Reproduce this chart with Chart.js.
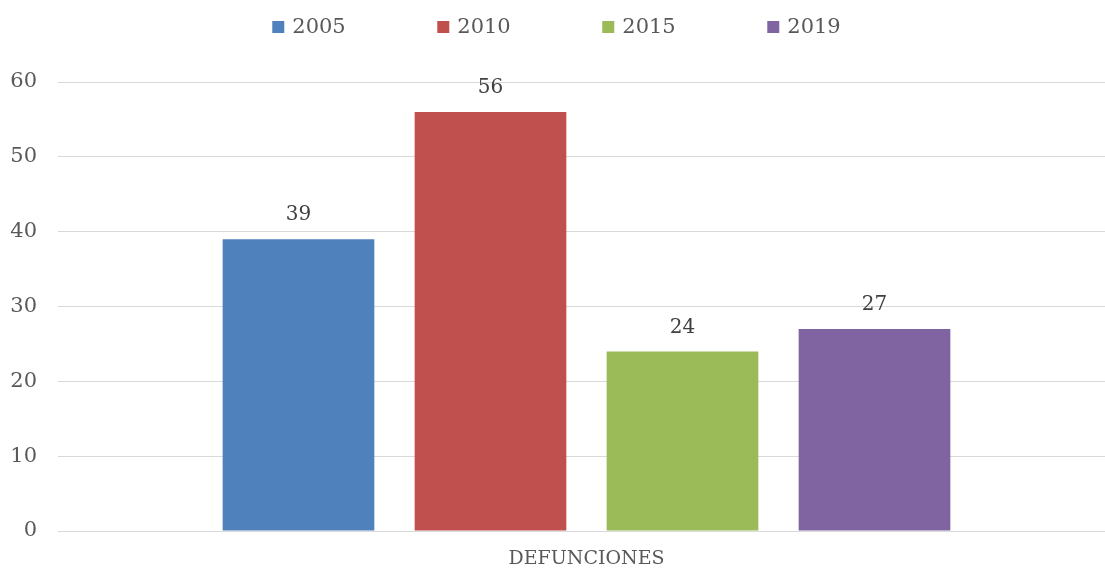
<!DOCTYPE html>
<html>
<head>
<meta charset="utf-8">
<script src="https://cdn.jsdelivr.net/npm/chart.js@4/dist/chart.umd.min.js"></script>
<style>
  html, body { margin: 0; padding: 0; background: #ffffff; }
  #wrap { width: 1105px; height: 571px; position: relative; }
</style>
</head>
<body>
<div id="wrap"><canvas id="c"></canvas></div>
<script>
const categories = ["DEFUNCIONES"];
const seriesLabels = ["2005", "2010", "2015", "2019"];
const values2005 = [39];
const values2010 = [56];
const values2015 = [24];
const values2019 = [27];
const yTicks = [0, 10, 20, 30, 40, 50, 60];

const colors = ["#4F81BD", "#C0504D", "#9BBB59", "#8064A2"];
const seriesValues = [values2005, values2010, values2015, values2019];
const FONT = "'DejaVu Serif', serif";

const dataLabelPlugin = {
  id: 'dataLabels',
  afterDatasetsDraw(chart) {
    const ctx = chart.ctx;
    ctx.save();
    ctx.font = "20px " + FONT;
    ctx.fillStyle = "#404040";
    ctx.textAlign = "center";
    ctx.textBaseline = "middle";
    chart.data.datasets.forEach((ds, i) => {
      const meta = chart.getDatasetMeta(i);
      meta.data.forEach((bar, j) => {
        ctx.fillText(String(ds.data[j]), bar.x, bar.y - 24);
      });
    });
    ctx.restore();
  }
};

const customLegend = {
  id: 'customLegend',
  afterDraw(chart) {
    const ctx = chart.ctx;
    ctx.save();
    ctx.font = "21px " + FONT;
    ctx.textBaseline = "middle";
    ctx.textAlign = "left";
    const box = 12, gap = 8, step = 165;
    const items = chart.data.datasets.map(d => ({ text: d.label, color: d.backgroundColor }));
    const lastW = box + gap + ctx.measureText(items[items.length - 1].text).width;
    const total = step * (items.length - 1) + lastW;
    let x = (chart.width - total) / 2 + 4;
    const y = 27;
    items.forEach(it => {
      ctx.fillStyle = it.color;
      ctx.fillRect(x, y - box / 2, box, box);
      ctx.fillStyle = "#595959";
      ctx.fillText(it.text, x + box + gap, y + 1);
      x += step;
    });
    ctx.restore();
  }
};

new Chart(document.getElementById('c'), {
  type: 'bar',
  data: {
    labels: categories,
    datasets: seriesLabels.map((lab, i) => ({
      label: lab,
      data: seriesValues[i],
      backgroundColor: colors[i],
      borderWidth: 0,
      categoryPercentage: 0.7406,
      barPercentage: 0.79
    }))
  },
  options: {
    responsive: true,
    maintainAspectRatio: false,
    animation: false,
    layout: { padding: { top: 82, left: 10, right: 0, bottom: 0 } },
    plugins: {
      legend: { display: false },
      tooltip: { enabled: false }
    },
    scales: {
      x: {
        grid: { display: false, drawTicks: false },
        border: { display: false },
        afterFit(scale) { scale.height = 40; },
        ticks: {
          color: "#595959",
          font: { family: FONT, size: 19 },
          padding: 17
        }
      },
      y: {
        min: 0,
        max: 60,
        afterBuildTicks(scale) { scale.ticks = yTicks.map(v => ({ value: v })); },
        afterFit(scale) { scale.width = 58; },
        grid: { color: "#D9D9D9", lineWidth: 1, drawTicks: true, tickLength: 10, tickColor: "#D9D9D9" },
        border: { display: false },
        ticks: {
          color: "#595959",
          font: { family: FONT, size: 21 },
          padding: 21
        }
      }
    }
  },
  plugins: [dataLabelPlugin, customLegend]
});
</script>
</body>
</html>
